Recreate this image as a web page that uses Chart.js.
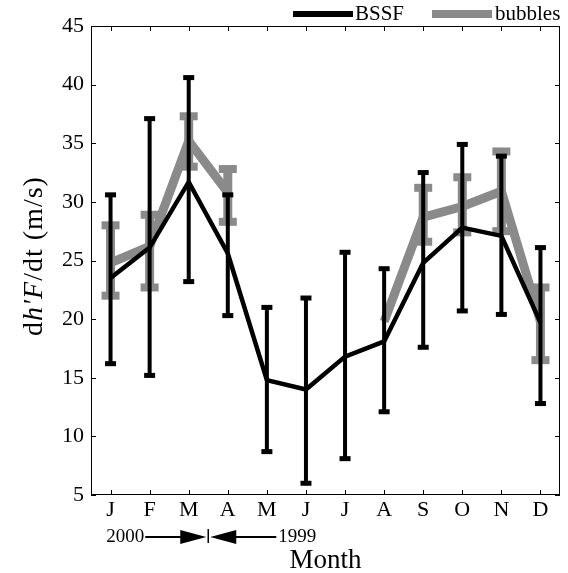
<!DOCTYPE html>
<html>
<head>
<meta charset="utf-8">
<script src="https://cdn.jsdelivr.net/npm/chart.js@4"></script>
<style>
  html, body { margin: 0; padding: 0; background: #fff; }
  #wrap { width: 568px; height: 573px; }
</style>
</head>
<body>
<div id="wrap"><canvas id="grafico"></canvas></div>
<script>
// datos
var months = ['J','F','M','A','M','J','J','A','S','O','N','D'];
var yTicks = [5, 10, 15, 20, 25, 30, 35, 40, 45];

var bssf     = [23.5, 26.1, 31.7, 25.6, 14.8, 14.0, 16.8, 18.1, 24.8, 27.8, 27.1, 19.7];
var bssfLow  = [16.2, 15.2, 23.2, 20.3,  8.7,  6.0,  8.1, 12.1, 17.6, 20.7, 20.4, 12.8];
var bssfHigh = [30.6, 37.1, 40.6, 30.6, 21.0, 21.8, 25.7, 24.3, 32.5, 34.9, 33.9, 26.1];

var bubbles     = [24.8, 26.2, 35.2, 30.8, null, null, null, 19.8, 28.7, 29.6, 30.9, 19.8];
var bubblesLow  = [22.0, 22.7, 33.0, 28.3, null, null, null, null, 26.6, 27.4, 27.5, 16.5];
var bubblesHigh = [28.0, 28.9, 37.3, 32.8, null, null, null, null, 31.2, 32.1, 34.3, 22.7];

var FONT = '"Liberation Serif", "DejaVu Serif", serif';
var GRAY = '#8a8a8a';

// barras de error dibujadas despues de cada linea
var errorBars = {
  id: 'errorBars',
  afterDatasetDraw: function(chart, args) {
    var ds = chart.data.datasets[args.index];
    if (!ds.errLow) return;
    var x = chart.scales.x, y = chart.scales.y, ctx = chart.ctx;
    ctx.save();
    ctx.fillStyle = ds.borderColor;
    for (var i = 0; i < ds.errLow.length; i++) {
      if (ds.errLow[i] == null) continue;
      var px = x.getPixelForValue(i);
      var yl = y.getPixelForValue(ds.errLow[i]);
      var yh = y.getPixelForValue(ds.errHigh[i]);
      ctx.fillRect(px - ds.errWidth / 2, yh, ds.errWidth, yl - yh);
      ctx.fillRect(px - ds.capWidth / 2, yh - ds.capHeight / 2, ds.capWidth, ds.capHeight);
      ctx.fillRect(px - ds.capWidth / 2, yl - ds.capHeight / 2, ds.capWidth, ds.capHeight);
    }
    ctx.restore();
  }
};

// marco, marcas interiores, leyenda, titulo del eje y y flechas de año
var decor = {
  id: 'decor',
  afterDraw: function(chart) {
    var ctx = chart.ctx, a = chart.chartArea;
    var x = chart.scales.x, y = chart.scales.y;
    ctx.save();
    ctx.strokeStyle = '#000';
    ctx.lineWidth = 1;
    ctx.strokeRect(a.left + 0.5, a.top + 0.5, a.right - a.left - 1, a.bottom - a.top - 1);
    ctx.beginPath();
    for (var i = 0; i < months.length; i++) {
      var px = Math.round(x.getPixelForValue(i)) + 0.5;
      ctx.moveTo(px, a.bottom); ctx.lineTo(px, a.bottom - 5);
      ctx.moveTo(px, a.top); ctx.lineTo(px, a.top + 5);
    }
    yTicks.forEach(function(v) {
      var py = Math.round(y.getPixelForValue(v)) + 0.5;
      ctx.moveTo(a.left, py); ctx.lineTo(a.left + 5, py);
      ctx.moveTo(a.right, py); ctx.lineTo(a.right - 5, py);
    });
    ctx.stroke();

    // leyenda
    ctx.font = '21px ' + FONT;
    ctx.textBaseline = 'middle';
    ctx.fillStyle = '#000';
    ctx.fillRect(293, 11, 60, 6);
    ctx.fillText('BSSF', 355, 14);
    ctx.fillStyle = GRAY;
    ctx.fillRect(432, 10, 60, 8);
    ctx.fillStyle = '#000';
    ctx.fillText('bubbles', 495, 14);

    // titulo eje y con h'F en cursiva
    var parts = [['d', ''], ["h'F", 'italic '], ['/dt (m/s)', '']];
    var total = 0;
    ctx.letterSpacing = '1px';
    parts.forEach(function(p) { ctx.font = p[1] + '28px ' + FONT; total += ctx.measureText(p[0]).width; });
    ctx.translate(42, 256);
    ctx.rotate(-Math.PI / 2);
    var cx = -total / 2;
    ctx.textAlign = 'left';
    ctx.textBaseline = 'alphabetic';
    parts.forEach(function(p) {
      ctx.font = p[1] + '28px ' + FONT;
      ctx.fillText(p[0], cx, 0);
      cx += ctx.measureText(p[0]).width;
    });
    ctx.setTransform(1, 0, 0, 1, 0, 0);
    ctx.letterSpacing = '0px';

    // flechas 2000 -> | <- 1999
    var mid = (x.getPixelForValue(2) + x.getPixelForValue(3)) / 2;
    var ay = 537;
    ctx.font = '19px ' + FONT;
    ctx.textBaseline = 'middle';
    ctx.textAlign = 'right';
    ctx.fillText('2000', mid - 64, ay);
    ctx.textAlign = 'left';
    ctx.fillText('1999', mid + 70, ay);
    ctx.lineWidth = 2;
    ctx.beginPath();
    ctx.moveTo(mid - 63, ay); ctx.lineTo(mid - 20, ay);
    ctx.moveTo(mid + 20, ay); ctx.lineTo(mid + 68, ay);
    ctx.stroke();
    ctx.lineWidth = 1.5;
    ctx.beginPath();
    ctx.moveTo(mid, ay - 8); ctx.lineTo(mid, ay + 6);
    ctx.stroke();
    ctx.beginPath();
    ctx.moveTo(mid - 2, ay); ctx.lineTo(mid - 28, ay - 7); ctx.lineTo(mid - 28, ay + 7); ctx.closePath();
    ctx.moveTo(mid + 2, ay); ctx.lineTo(mid + 28, ay - 7); ctx.lineTo(mid + 28, ay + 7); ctx.closePath();
    ctx.fill();
    ctx.restore();
  }
};

new Chart(document.getElementById('grafico'), {
  type: 'line',
  data: {
    labels: months,
    datasets: [{
      label: 'BSSF',
      data: bssf,
      borderColor: '#000',
      borderWidth: 4.5,
      pointRadius: 0,
      tension: 0,
      errLow: bssfLow, errHigh: bssfHigh,
      errWidth: 4, capWidth: 11, capHeight: 5
    }, {
      label: 'bubbles',
      data: bubbles,
      borderColor: GRAY,
      borderWidth: 9,
      pointRadius: 0,
      tension: 0,
      spanGaps: false,
      errLow: bubblesLow, errHigh: bubblesHigh,
      errWidth: 9, capWidth: 18, capHeight: 8
    }]
  },
  options: {
    responsive: true,
    maintainAspectRatio: false,
    animation: false,
    layout: { padding: { top: 26, right: 8, left: 0, bottom: 0 } },
    plugins: { legend: { display: false }, tooltip: { enabled: false } },
    scales: {
      x: {
        offset: true,
        grid: { display: false, drawTicks: false },
        border: { display: false },
        ticks: { color: '#000', padding: 2, font: { family: FONT, size: 22 } },
        title: { display: true, text: 'Month', color: '#000', padding: { top: 0, bottom: -4 }, font: { family: FONT, size: 27 } },
        afterFit: function(s) { s.height = 78; }
      },
      y: {
        min: 5, max: 45,
        grid: { display: false, drawTicks: false },
        border: { display: false },
        ticks: { stepSize: 5, color: '#000', padding: 7, font: { family: FONT, size: 22 } },
        afterFit: function(s) { s.width = 91; }
      }
    }
  },
  plugins: [errorBars, decor]
});
</script>
</body>
</html>
